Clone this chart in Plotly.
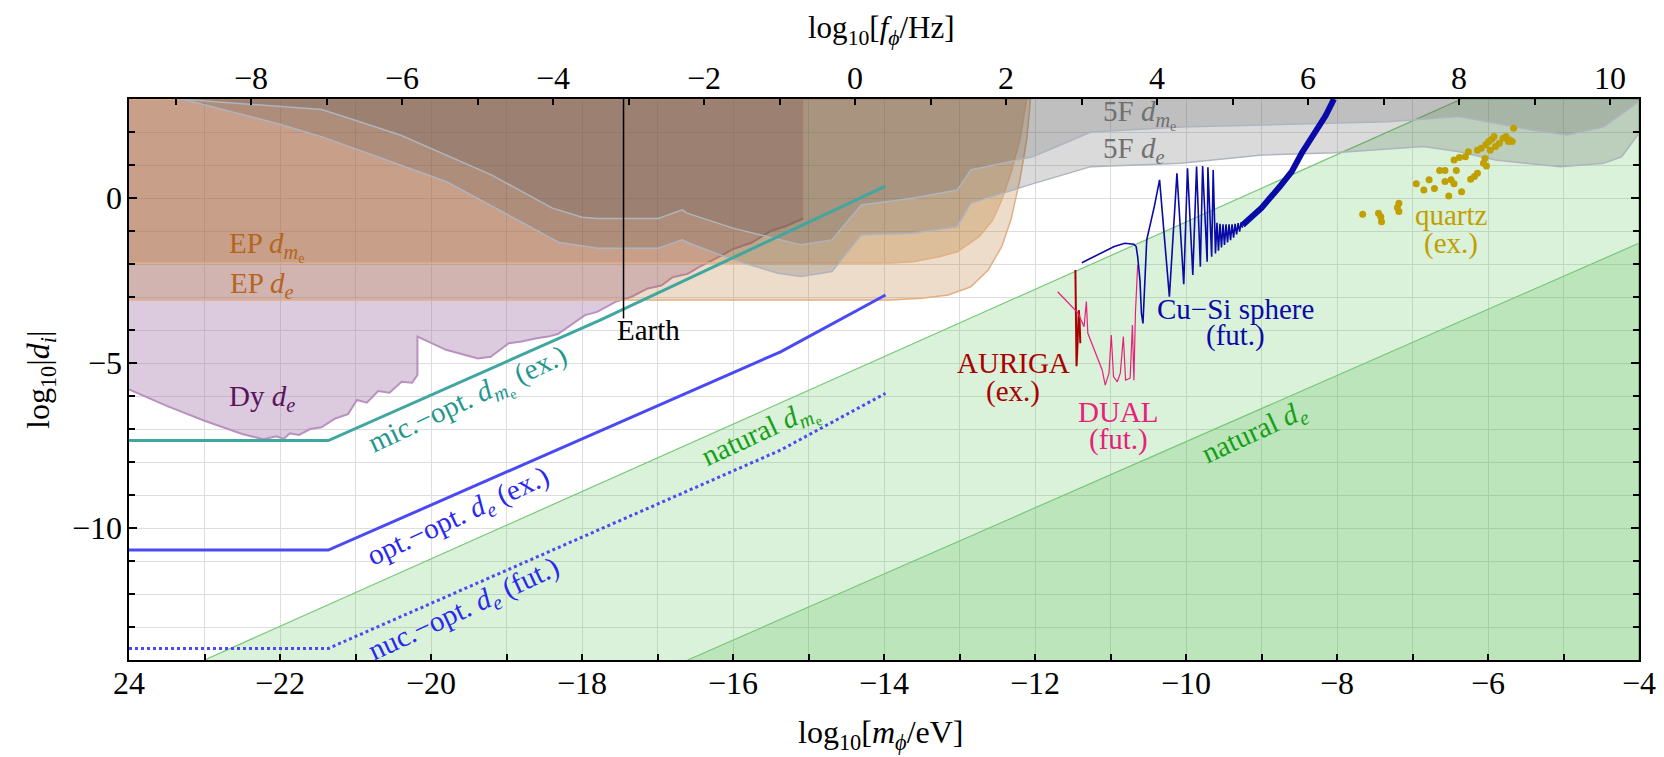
import plotly.graph_objects as go

X_MIN, X_MAX = -24.0, -4.0
Y_MIN, Y_MAX = -14.0, 3.0
F_OFFSET = 14.383  # log10(eV/h in Hz)

# ---------------- data ----------------
nat_dme_x = [-23.0, -6.35]
nat_dme_y = [-14.0, 3.0]
nat_de_x = [-16.6, -4.0]
nat_de_y = [-14.0, -1.37]

ep_de_x = [-24.0, -13.9, -13.5, -13.15, -12.85, -12.62, -12.44, -12.32, -12.2, -12.11, -12.06]
ep_de_y = [-3.09, -3.09, -3.04, -2.94, -2.69, -2.18, -1.47, -0.67, 0.55, 1.76, 3.0]
ep_dme_x = [-24.0, -13.9, -13.62, -13.27, -13.03, -12.74, -12.56, -12.44, -12.32, -12.2, -12.11]
ep_dme_y = [-1.97, -1.97, -1.93, -1.78, -1.63, -1.17, -0.67, -0.06, 0.75, 1.76, 3.0]

dy_x = [-24.0, -23.5, -23.0, -22.5, -22.22, -22.05, -21.95, -21.87, -21.75, -21.6, -21.45, -21.27,
        -21.1, -20.98, -20.85, -20.7, -20.55, -20.39, -20.25, -20.18, -20.18, -19.8, -19.38, -19.21,
        -18.97, -18.8, -18.6, -18.45, -18.32, -18.15, -17.96, -17.8, -17.55, -17.35, -17.13, -16.95,
        -16.8, -16.6, -16.44, -16.2, -16.0, -15.75, -15.5, -15.3, -15.07]
dy_y = [-5.8, -6.3, -6.75, -7.15, -7.31, -7.22, -7.3, -7.13, -7.18, -7.0, -6.95, -6.68,
        -6.55, -6.12, -6.2, -5.85, -5.9, -5.57, -5.6, -5.36, -4.2, -4.6, -4.86, -4.81,
        -4.4, -4.35, -4.25, -4.2, -4.12, -3.85, -3.55, -3.45, -3.14, -3.0, -2.74, -2.65,
        -2.4, -2.3, -2.08, -1.8, -1.55, -1.35, -1.0, -0.85, -0.62]

f5_dme_x = [-23.34, -22.5, -21.45, -21.2, -20.4, -19.2, -18.4, -18.0, -17.79, -16.99, -16.67,
            -16.61, -15.99, -15.10, -14.69, -14.30, -13.62, -13.03, -12.85, -12.03, -11.26,
            -10.07, -8.99, -8.28, -7.33, -6.38, -5.42, -4.95, -4.47, -4.0]
f5_dme_y = [3.0, 2.85, 2.68, 2.5, 1.9, 0.7, -0.3, -0.58, -0.62, -0.62, -0.36,
            -0.46, -0.92, -1.42, -1.27, -0.21, -0.01, 0.24, 0.85, 1.25, 2.0,
            2.15, 2.21, 2.26, 2.31, 2.47, 2.06, 1.91, 2.16, 2.92]
f5_de_x = [-23.3, -22.04, -21.45, -19.8, -18.3, -17.79, -16.99, -16.67, -16.58, -15.99, -15.4,
           -15.10, -14.69, -14.30, -13.62, -13.03, -12.85, -12.09, -11.26, -10.07, -8.99,
           -8.04, -6.85, -6.38, -5.9, -5.04, -4.47, -4.23, -4.0]
f5_de_y = [3.0, 2.26, 1.86, 0.5, -1.35, -1.52, -1.52, -1.27, -1.37, -1.88, -2.28,
           -2.38, -2.23, -1.12, -1.07, -0.87, -0.16, 0.39, 0.95, 1.05, 1.3,
           1.37, 1.56, 1.4, 1.15, 0.95, 1.05, 1.25, 1.96]

mic_x = [-24.0, -21.36, -17.76, -13.98]
mic_y = [-7.35, -7.35, -3.7, 0.36]
opt_x = [-24.0, -21.36, -15.37, -13.98]
opt_y = [-10.67, -10.67, -4.66, -2.94]
nuc_x = [-24.0, -21.36, -15.37, -13.98]
nuc_y = [-13.65, -13.65, -7.64, -5.92]

earth_x = [-17.45, -17.45]
earth_y = [3.0, -3.65]

auriga_x = [-11.465, -11.46, -11.455, -11.45, -11.44, -11.43, -11.42, -11.41, -11.40]
auriga_y = [-2.18, -3.5, -4.9, -5.1, -4.6, -3.6, -3.4, -3.7, -4.4]

dual_x = [-11.70, -11.55, -11.43, -11.35, -11.32, -11.30, -11.20, -11.11, -11.07, -11.02,
          -10.99, -10.96, -10.91, -10.87, -10.83, -10.80, -10.74, -10.71, -10.69, -10.67, -10.64]
dual_y = [-2.84, -3.19, -3.49, -3.90, -3.14, -4.1, -4.71, -5.21, -5.67, -5.31,
          -4.15, -5.41, -5.57, -5.31, -4.2, -5.52, -5.46, -3.85, -5.52, -3.49, -2.03]

cusi_x = [-11.38, -11.14, -10.95, -10.81, -10.69, -10.66, -10.64, -10.61, -10.59, -10.57, -10.55,
          -10.52, -10.42, -10.35, -10.22, -10.12, -10.03, -9.98, -9.91, -9.86, -9.81, -9.78,
          -9.72, -9.71, -9.66, -9.64, -9.61, -9.59, -9.57, -9.55, -9.53, -9.51, -9.49, -9.47,
          -9.45, -9.43, -9.41, -9.39, -9.37, -9.35, -9.33, -9.31, -9.29, -9.27, -9.25]
cusi_y = [-1.96, -1.68, -1.47, -1.37, -1.40, -1.47, -1.78, -2.48, -3.5, -3.8, -2.8,
          -1.27, -0.26, 0.55, -2.99, 0.75, -2.61, 0.90, -2.33, 0.95, -2.08, 0.97,
          -1.93, 0.93, -1.78, 0.85, -1.68, -0.75, -1.6, -0.78, -1.5, -0.8, -1.42, -0.8,
          -1.35, -0.8, -1.28, -0.8, -1.2, -0.78, -1.1, -0.76, -1.02, -0.74, -0.9]
cusi_band_x = [-9.25, -9.0, -8.76, -8.6, -8.47, -8.28, -8.15, -8.04]
cusi_band_y = [-0.82, -0.3, 0.34, 0.8, 1.35, 2.06, 2.5, 3.0]

quartz_x = [-7.66, -7.45, -7.41, -7.42, -7.18, -7.18, -7.20, -6.95, -6.85, -6.78, -6.71, -6.64,
            -6.57, -6.57, -6.52, -6.49, -6.45, -6.42, -6.35, -6.45, -6.38, -6.30, -6.26, -6.23,
            -6.18, -6.14, -6.14, -6.09, -6.04, -6.02, -6.06, -6.03, -5.99, -5.95, -5.92, -5.97,
            -5.90, -5.85, -5.80, -5.76, -5.71, -5.68, -5.66, -5.73]
quartz_y = [-0.49, -0.46, -0.72, -0.57, -0.16, -0.41, -0.29, 0.43, 0.24, 0.55, 0.29, 0.83,
            0.83, 0.50, 0.06, 0.55, 0.43, 0.83, 0.19, 1.15, 1.23, 1.25, 1.40, 0.57,
            0.65, 0.75, 1.45, 1.51, 1.20, 0.97, 1.05, 1.61, 1.71, 1.78, 1.86, 1.45,
            1.56, 1.66, 1.81, 1.86, 1.76, 1.71, 2.11, 1.71]

x_tickvals = [-24, -22, -20, -18, -16, -14, -12, -10, -8, -6, -4]
x_ticktext = ["24", "\u221222", "\u221220", "\u221218", "\u221216", "\u221214", "\u221212",
              "\u221210", "\u22128", "\u22126", "\u22124"]
top_tickvals = [-8, -6, -4, -2, 0, 2, 4, 6, 8, 10]
top_ticktext = ["\u22128", "\u22126", "\u22124", "\u22122", "0", "2", "4", "6", "8", "10"]
y_tickvals = [0, -5, -10]
y_ticktext = ["0", "\u22125", "\u221210"]

FONT = "Liberation Serif, Times New Roman, serif"
DME = "<i>d</i><sub><i>m</i><sub>e</sub></sub>"
DE = "<i>d<sub>e</sub></i>"

# The page body has an 8px margin; figure is sized so that the plot area
# lands at page pixels x 129..1639, y 99..660.
OFF = 8
W, H = 1664 - OFF, 757 - OFF
L, T = 129 - OFF, 99 - OFF
R = W - (1639 - OFF)
B = H - (660 - OFF)
PW, PH = W - L - R, H - T - B
BOT = T + PH  # figure y of bottom axis


def py(page_y):
    """paper y for a page-pixel y"""
    return (BOT - (page_y - OFF)) / PH


def px(page_x):
    return ((page_x - OFF) - L) / PW


fig = go.Figure()


def poly(xs, ys, fill, line_color=None, lw=0):
    fig.add_trace(go.Scatter(x=xs, y=ys, mode="lines", fill="toself", fillcolor=fill,
                             line=dict(color=line_color or "rgba(0,0,0,0)", width=lw),
                             hoverinfo="skip", showlegend=False))


def curve(xs, ys, color, width, dash="solid"):
    fig.add_trace(go.Scatter(x=xs, y=ys, mode="lines", line=dict(color=color, width=width, dash=dash),
                             hoverinfo="skip", showlegend=False))


# natural regions
poly(nat_dme_x + [X_MAX, X_MAX], nat_dme_y + [Y_MAX, Y_MIN], "rgba(60,180,60,0.19)",
     "rgba(120,200,120,1)", 1.2)
poly(nat_de_x + [X_MAX], nat_de_y + [Y_MIN], "rgba(60,180,60,0.19)", "rgba(120,200,120,1)", 1.2)

# Dy region (purple)
poly(dy_x + [dy_x[-1], X_MIN], dy_y + [Y_MAX, Y_MAX], "rgba(155,106,164,0.35)")
curve(dy_x, dy_y, "rgba(185,145,190,1)", 2)

# EP regions
poly(ep_de_x + [X_MIN], ep_de_y + [Y_MAX], "rgba(173,96,10,0.22)", "rgba(225,175,130,1)", 1.5)
poly(ep_dme_x + [X_MIN], ep_dme_y + [Y_MAX], "rgba(173,96,10,0.24)", "rgba(225,175,130,1)", 1.5)

# fifth force regions
poly(f5_de_x + [X_MAX, f5_de_x[0]], f5_de_y + [Y_MAX, Y_MAX], "rgba(70,70,70,0.2)")
poly(f5_dme_x + [X_MAX, f5_dme_x[0]], f5_dme_y + [Y_MAX, Y_MAX], "rgba(85,85,85,0.2)")
curve(f5_de_x, f5_de_y, "rgba(175,180,190,1)", 1.5)
curve(f5_dme_x, f5_dme_y, "rgba(175,180,190,1)", 1.5)

# sensitivity lines
curve(mic_x, mic_y, "#3fa6a0", 3)
curve(opt_x, opt_y, "#4a4af5", 3)
curve(nuc_x, nuc_y, "#4a4af5", 3, "dot")
curve(earth_x, earth_y, "black", 1.5)
curve(auriga_x, auriga_y, "#aa0000", 2)
curve(dual_x, dual_y, "#e8207a", 1.2)
curve(cusi_x, cusi_y, "#0a0aa8", 1.6)
curve(cusi_band_x, cusi_band_y, "#0a0aa8", 6)

fig.add_trace(go.Scatter(x=quartz_x, y=quartz_y, mode="markers",
                         marker=dict(color="#c0a000", size=7), hoverinfo="skip", showlegend=False))

# invisible trace to activate the top axis
fig.add_trace(go.Scatter(x=[0], y=[-20], xaxis="x2", mode="markers",
                         marker=dict(opacity=0), hoverinfo="skip", showlegend=False))

LBL = 29
labels = [
    ("EP " + DME, -22.17, -1.47, "#b5651d", 0),
    ("EP " + DE, -22.24, -2.64, "#b5651d", 0),
    ("Dy " + DE, -22.24, -6.07, "#5a145a", 0),
    ("Earth", -17.12, -4.0, "black", 0),
    ("mic.\u2212opt. " + DME + " (ex.)", -19.5, -6.17, "#1f978f", -25),
    ("opt.\u2212opt. " + DE + " (ex.)", -19.63, -9.66, "#2828f0", -25),
    ("nuc.\u2212opt. " + DE + " (fut.)", -19.56, -12.48, "#2828f0", -25),
    ("natural " + DME, -15.63, -7.18, "#14a014", -25),
    ("natural " + DE, -9.09, -7.13, "#14a014", -25),
    ("AURIGA", -12.29, -5.01, "#aa0000", 0),
    ("(ex.)", -12.29, -5.85, "#aa0000", 0),
    ("DUAL", -10.90, -6.47, "#e8207a", 0),
    ("(fut.)", -10.90, -7.31, "#e8207a", 0),
    ("Cu\u2212Si sphere", -9.35, -3.36, "#0a0aa8", 0),
    ("(fut.)", -9.35, -4.18, "#0a0aa8", 0),
    ("quartz", -6.49, -0.51, "#c0a000", 0),
    ("(ex.)", -6.49, -1.37, "#c0a000", 0),
    ("5F " + DME, -10.61, 2.52, "#707070", 0),
    ("5F " + DE, -10.7, 1.45, "#707070", 0),
]
for txt, x, y, col, ang in labels:
    fig.add_annotation(x=x, y=y, xref="x", yref="y", text=txt, showarrow=False,
                       font=dict(family=FONT, size=LBL, color=col), textangle=ang,
                       xanchor="center", yanchor="middle", borderpad=0)

TICKF = dict(family=FONT, size=32, color="black")
for v, t in zip(x_tickvals, x_ticktext):
    fig.add_annotation(x=v, y=py(683), xref="x", yref="paper", text=t,
                       showarrow=False, font=TICKF, xanchor="center", yanchor="middle")
for v, t in zip(top_tickvals, top_ticktext):
    fig.add_annotation(x=v, y=py(78), xref="x2", yref="paper", text=t,
                       showarrow=False, font=TICKF, xanchor="center", yanchor="middle")
for v, t in zip(y_tickvals, y_ticktext):
    fig.add_annotation(x=px(124), y=v, xref="paper", yref="y", text=t,
                       showarrow=False, font=TICKF, xanchor="right", yanchor="middle")

# axis titles
fig.add_annotation(x=px(40), y=py(380), xref="paper", yref="paper",
                   text="log<sub>10</sub>|<i>d<sub>i</sub></i>|", showarrow=False, textangle=-90,
                   xanchor="center", yanchor="middle",
                   font=dict(family=FONT, size=32, color="black"))
fig.add_annotation(x=px(881), y=py(734), xref="paper", yref="paper",
                   text="log<sub>10</sub>[<i>m<sub>\u03d5</sub></i>/eV]", showarrow=False,
                   xanchor="center", yanchor="middle",
                   font=dict(family=FONT, size=32, color="black"))
fig.add_annotation(x=px(881), y=py(30), xref="paper", yref="paper",
                   text="log<sub>10</sub>[<i>f<sub>\u03d5</sub></i>/Hz]", showarrow=False,
                   xanchor="center", yanchor="middle", borderpad=0,
                   font=dict(family=FONT, size=31, color="black"))

grid_col = "#dedede"
fig.update_layout(
    width=W, height=H, autosize=False,
    margin=dict(l=L, r=R, t=T, b=B, pad=0),
    paper_bgcolor="white", plot_bgcolor="white",
    font=dict(family=FONT, size=30, color="black"),
    xaxis=dict(range=[X_MIN, X_MAX], tickmode="array", tickvals=x_tickvals, showticklabels=False,
               ticks="inside", ticklen=6, tickwidth=1.5, tickcolor="black",
               showline=True, linecolor="black", linewidth=2, mirror=False,
               showgrid=True, gridcolor=grid_col, gridwidth=1.2, zeroline=False,
               minor=dict(tick0=-24, dtick=1, ticks="inside", ticklen=6, tickcolor="black",
                          showgrid=True, gridcolor=grid_col, gridwidth=1.2)),
    xaxis2=dict(range=[X_MIN + F_OFFSET, X_MAX + F_OFFSET], overlaying="x", side="top",
                tickmode="array", tickvals=top_tickvals, showticklabels=False,
                ticks="inside", ticklen=6, tickwidth=1.5, tickcolor="black",
                showline=True, linecolor="black", linewidth=2, showgrid=False, zeroline=False,
                minor=dict(tick0=0, dtick=1, ticks="inside", ticklen=6, tickcolor="black",
                           showgrid=False)),
    yaxis=dict(range=[Y_MIN, Y_MAX], tickmode="array", tickvals=y_tickvals, showticklabels=False,
               ticks="inside", ticklen=8, tickwidth=1.5, tickcolor="black",
               showline=True, linecolor="black", linewidth=2, mirror="ticks",
               showgrid=True, gridcolor=grid_col, gridwidth=1.2, zeroline=False,
               minor=dict(tick0=0, dtick=1, ticks="inside", ticklen=6, tickcolor="black",
                          showgrid=True, gridcolor=grid_col, gridwidth=1.2)),
)

fig.write_html("out.html")
